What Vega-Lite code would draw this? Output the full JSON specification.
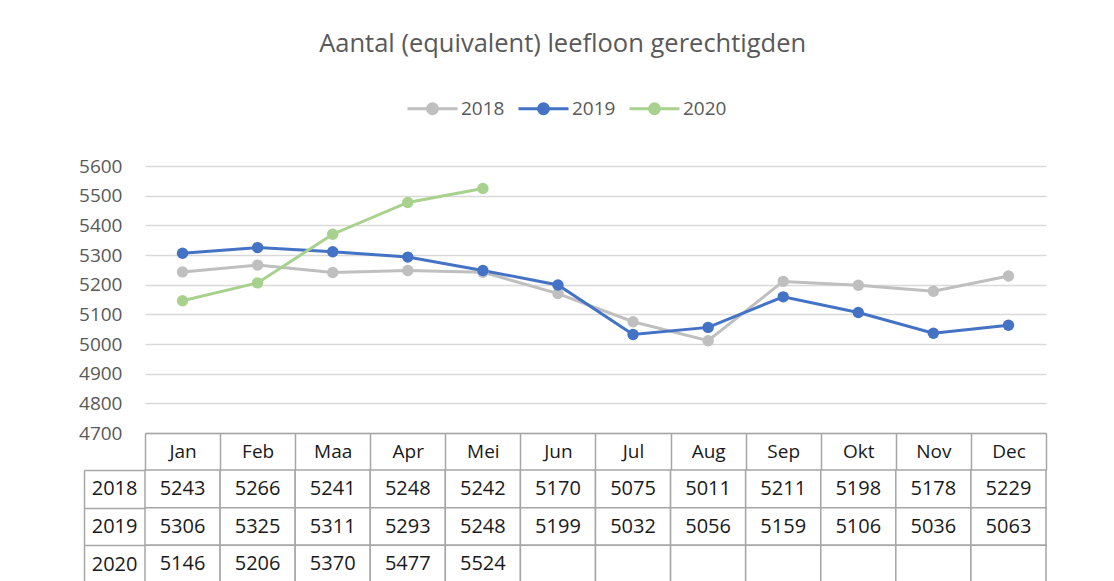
{
  "$schema": "https://vega.github.io/schema/vega-lite/v6.json",
  "padding": {"left": 78, "top": 31, "right": 5, "bottom": 0},
  "background": "white",
  "bounds": "flush",
  "spacing": 37,
  "title": {"text": "Aantal (equivalent) leefloon gerechtigden", "fontSize": 25.5, "font": "Open Sans", "fontWeight": "normal", "color": "#595959", "anchor": "middle", "offset": 25},
  "datasets": {
    "d": [
      {"year": "2018", "month": "Jan", "value": 5243},
      {"year": "2018", "month": "Feb", "value": 5266},
      {"year": "2018", "month": "Maa", "value": 5241},
      {"year": "2018", "month": "Apr", "value": 5248},
      {"year": "2018", "month": "Mei", "value": 5242},
      {"year": "2018", "month": "Jun", "value": 5170},
      {"year": "2018", "month": "Jul", "value": 5075},
      {"year": "2018", "month": "Aug", "value": 5011},
      {"year": "2018", "month": "Sep", "value": 5211},
      {"year": "2018", "month": "Okt", "value": 5198},
      {"year": "2018", "month": "Nov", "value": 5178},
      {"year": "2018", "month": "Dec", "value": 5229},
      {"year": "2019", "month": "Jan", "value": 5306},
      {"year": "2019", "month": "Feb", "value": 5325},
      {"year": "2019", "month": "Maa", "value": 5311},
      {"year": "2019", "month": "Apr", "value": 5293},
      {"year": "2019", "month": "Mei", "value": 5248},
      {"year": "2019", "month": "Jun", "value": 5199},
      {"year": "2019", "month": "Jul", "value": 5032},
      {"year": "2019", "month": "Aug", "value": 5056},
      {"year": "2019", "month": "Sep", "value": 5159},
      {"year": "2019", "month": "Okt", "value": 5106},
      {"year": "2019", "month": "Nov", "value": 5036},
      {"year": "2019", "month": "Dec", "value": 5063},
      {"year": "2020", "month": "Jan", "value": 5146},
      {"year": "2020", "month": "Feb", "value": 5206},
      {"year": "2020", "month": "Maa", "value": 5370},
      {"year": "2020", "month": "Apr", "value": 5477},
      {"year": "2020", "month": "Mei", "value": 5524},
      {"year": "2020", "month": "Jun", "value": null},
      {"year": "2020", "month": "Jul", "value": null},
      {"year": "2020", "month": "Aug", "value": null},
      {"year": "2020", "month": "Sep", "value": null},
      {"year": "2020", "month": "Okt", "value": null},
      {"year": "2020", "month": "Nov", "value": null},
      {"year": "2020", "month": "Dec", "value": null}
    ]
  },
  "vconcat": [
    {
      "width": 901,
      "height": 267,
      "data": {"name": "d"},
      "transform": [{"filter": "datum.value != null"}],
      "mark": {"type": "line", "strokeWidth": 3, "point": {"filled": true, "size": 130}},
      "encoding": {
        "x": {
          "field": "month", "type": "nominal",
          "sort": ["Jan", "Feb", "Maa", "Apr", "Mei", "Jun", "Jul", "Aug", "Sep", "Okt", "Nov", "Dec"],
          "scale": {"type": "band", "paddingInner": 0, "paddingOuter": 0},
          "axis": {
            "title": null, "orient": "bottom", "grid": false,
            "domain": true, "domainColor": "#a6a6a6", "domainWidth": 1.5,
            "ticks": true, "tickBand": "extent", "tickSize": 37, "tickColor": "#a6a6a6", "tickWidth": 1.5,
            "labelAngle": 0, "labelBaseline": "middle", "labelPadding": -18.5,
            "labelFont": "Open Sans", "labelFontSize": 19, "labelColor": "#1a1a1a"
          }
        },
        "y": {
          "field": "value", "type": "quantitative",
          "scale": {"domain": [4700, 5600], "nice": false, "zero": false},
          "axis": {
            "title": null, "values": [4700, 4800, 4900, 5000, 5100, 5200, 5300, 5400, 5500, 5600], "format": "d",
            "domain": false, "ticks": false, "labelPadding": 23,
            "gridColor": "#d9d9d9", "gridWidth": 1.5,
            "labelFont": "Open Sans", "labelFontSize": 19, "labelColor": "#595959"
          }
        },
        "color": {
          "field": "year", "type": "nominal",
          "scale": {"domain": ["2018", "2019", "2020"], "range": ["#bfbfbf", "#4472c4", "#a9d18e"]},
          "legend": {
            "orient": "none", "legendX": 261, "legendY": -84, "direction": "horizontal", "title": null,
            "symbolType": "M-1,0L1,0M-0.2,0A0.2,0.2,0,1,0,0.2,0A0.2,0.2,0,1,0,-0.2,0Z",
            "symbolSize": 2500, "symbolStrokeWidth": 3,
            "labelFont": "Open Sans", "labelFontSize": 19, "labelColor": "#595959",
            "columnPadding": 7, "labelOffset": 2,
            "encode": {"symbols": {"update": {"fill": {"scale": "color", "field": "value"}, "stroke": {"scale": "color", "field": "value"}, "opacity": {"value": 1}}}}
          }
        }
      }
    },
    {
      "width": 901,
      "height": 113,
      "data": {"name": "d"},
      "layer": [
        {
          "mark": {"type": "rect", "fill": "white", "stroke": "#a6a6a6", "strokeWidth": 1.5},
          "encoding": {
            "x": {
              "field": "month", "type": "nominal",
              "sort": ["Jan", "Feb", "Maa", "Apr", "Mei", "Jun", "Jul", "Aug", "Sep", "Okt", "Nov", "Dec"],
              "scale": {"type": "band", "paddingInner": 0, "paddingOuter": 0},
              "axis": null
            },
            "y": {
              "field": "year", "type": "nominal",
              "scale": {"type": "band", "paddingInner": 0, "paddingOuter": 0},
              "axis": {
                "title": null, "orient": "left", "domain": false, "grid": false,
                "ticks": true, "tickBand": "extent", "tickSize": 61, "tickColor": "#a6a6a6", "tickWidth": 1.5,
                "labelPadding": -53, "labelFont": "Open Sans", "labelFontSize": 20, "labelColor": "#1a1a1a"
              }
            }
          }
        },
        {
          "transform": [{"filter": "datum.value != null"}],
          "mark": {"type": "text", "font": "Open Sans", "fontSize": 20, "color": "#1a1a1a"},
          "encoding": {
            "x": {
              "field": "month", "type": "nominal",
              "sort": ["Jan", "Feb", "Maa", "Apr", "Mei", "Jun", "Jul", "Aug", "Sep", "Okt", "Nov", "Dec"],
              "scale": {"type": "band", "paddingInner": 0, "paddingOuter": 0},
              "axis": null
            },
            "y": {
              "field": "year", "type": "nominal",
              "scale": {"type": "band", "paddingInner": 0, "paddingOuter": 0},
              "axis": {
                "title": null, "orient": "left", "offset": 61, "domain": true, "domainColor": "#a6a6a6", "domainWidth": 1.5,
                "ticks": false, "labels": false, "grid": false
              }
            },
            "text": {"field": "value", "type": "quantitative", "format": "d"}
          }
        }
      ],
      "resolve": {"axis": {"y": "independent"}}
    }
  ],
  "config": {"view": {"stroke": null}}
}
